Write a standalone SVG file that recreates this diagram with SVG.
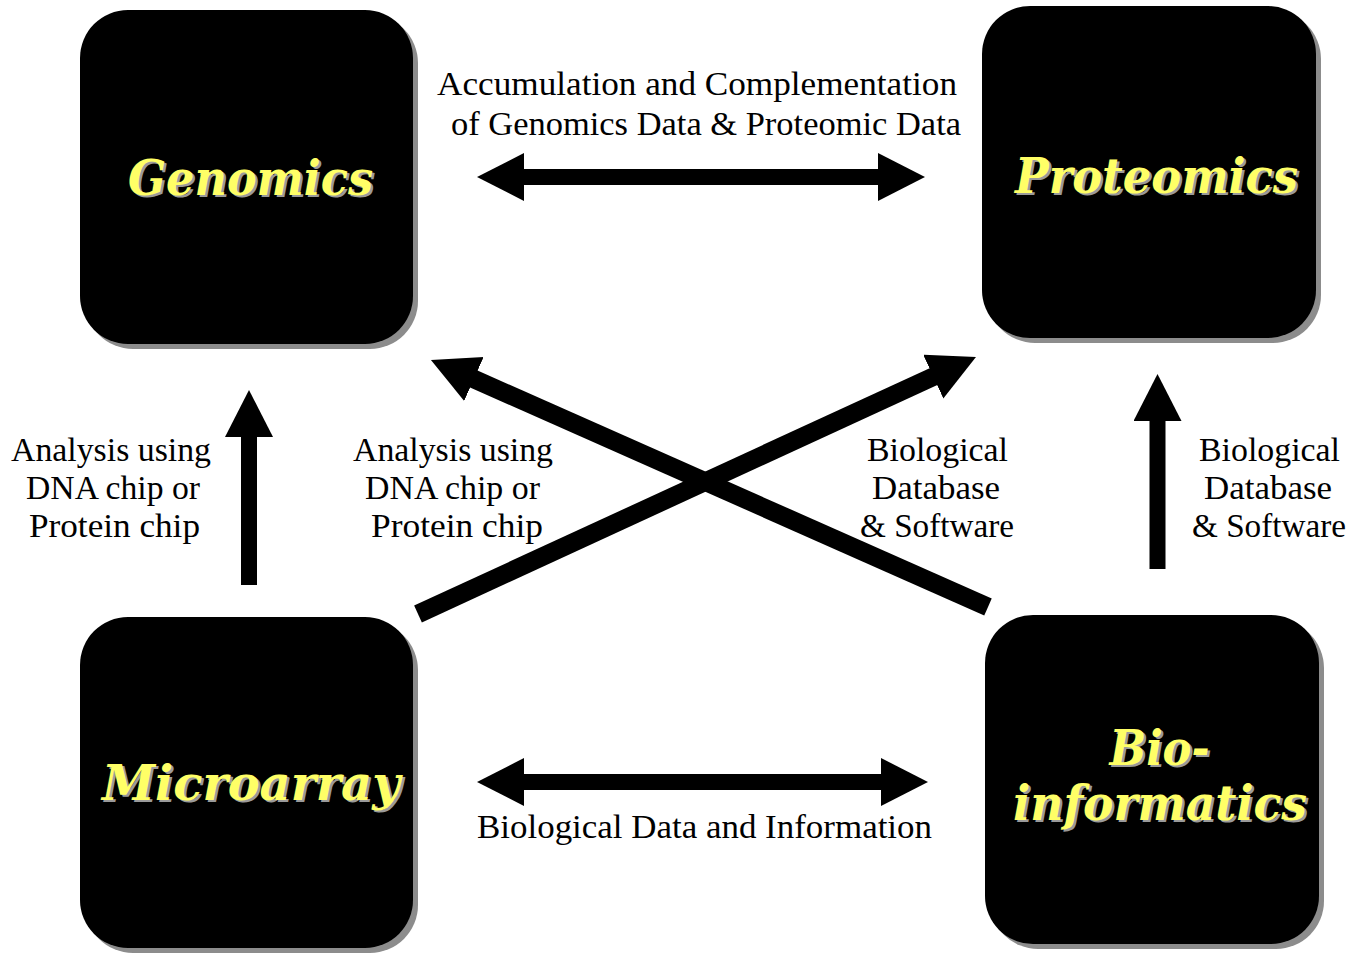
<svg xmlns="http://www.w3.org/2000/svg" width="1352" height="958" viewBox="0 0 1352 958">
<defs>
<style>
.box{fill:#000}
.shadow{fill:#8c8c8c}
.title{font-family:"DejaVu Serif","Liberation Serif",serif;font-weight:bold;font-style:italic;font-size:48px;text-anchor:middle}
.tshadow{fill:#9a9a9a}
.tfill{fill:#ffff66}
.lbl{font-family:"Liberation Serif","DejaVu Serif",serif;font-size:34px;fill:#000;text-anchor:middle}
.conn{stroke:#000;fill:none;stroke-linecap:butt}
</style>
<marker id="ah" markerUnits="userSpaceOnUse" markerWidth="50" markerHeight="50" viewBox="0 0 50 50" refX="2" refY="24" orient="auto-start-reverse">
<path d="M0,0 L47,24 L0,48 z" fill="#000"/>
</marker>
</defs>
<rect width="1352" height="958" fill="#fff"/>

<g id="genomics">
<rect class="shadow" x="85" y="15" width="333" height="334" rx="48"/>
<rect class="box" x="80" y="10" width="333" height="334" rx="48"/>
<text class="title tshadow" x="253" y="197" textLength="245" lengthAdjust="spacingAndGlyphs">Genomics</text>
<text class="title tfill" x="250.5" y="194.5" textLength="245" lengthAdjust="spacingAndGlyphs">Genomics</text>
</g>

<g id="proteomics">
<rect class="shadow" x="987" y="11" width="334" height="332" rx="48"/>
<rect class="box" x="982" y="6" width="334" height="332" rx="48"/>
<text class="title tshadow" x="1159" y="195" textLength="283" lengthAdjust="spacingAndGlyphs">Proteomics</text>
<text class="title tfill" x="1156.5" y="192.5" textLength="283" lengthAdjust="spacingAndGlyphs">Proteomics</text>
</g>

<g id="microarray">
<rect class="shadow" x="85" y="622" width="333" height="331" rx="48"/>
<rect class="box" x="80" y="617" width="333" height="331" rx="48"/>
<text class="title tshadow" x="253.5" y="802" textLength="298" lengthAdjust="spacingAndGlyphs">Microarray</text>
<text class="title tfill" x="251" y="799.5" textLength="298" lengthAdjust="spacingAndGlyphs">Microarray</text>
</g>

<g id="bioinformatics">
<rect class="shadow" x="990" y="620" width="334" height="329" rx="48"/>
<rect class="box" x="985" y="615" width="334" height="329" rx="48"/>
<text class="title tshadow" x="1162" y="767" textLength="100" lengthAdjust="spacingAndGlyphs">Bio-</text>
<text class="title tfill" x="1159.5" y="764.5" textLength="100" lengthAdjust="spacingAndGlyphs">Bio-</text>
<text class="title tshadow" x="1162.5" y="822" textLength="294" lengthAdjust="spacingAndGlyphs">informatics</text>
<text class="title tfill" x="1160" y="819.5" textLength="294" lengthAdjust="spacingAndGlyphs">informatics</text>
</g>

<g id="connectors">
<line class="conn" x1="522" y1="177" x2="880" y2="177" stroke-width="16" marker-start="url(#ah)" marker-end="url(#ah)"/>
<line class="conn" x1="522" y1="782" x2="883" y2="782" stroke-width="16" marker-start="url(#ah)" marker-end="url(#ah)"/>
<line class="conn" x1="249" y1="585" x2="249" y2="435" stroke-width="16" marker-end="url(#ah)"/>
<line class="conn" x1="1157.5" y1="569" x2="1157.5" y2="419" stroke-width="16" marker-end="url(#ah)"/>
<line class="conn" x1="418" y1="614" x2="935.1" y2="375.8" stroke-width="18.5" marker-end="url(#ah)"/>
<line class="conn" x1="988" y1="607" x2="472.1" y2="378.2" stroke-width="18.5" marker-end="url(#ah)"/>
</g>

<g id="labels">
<text class="lbl" x="697" y="95" textLength="520" lengthAdjust="spacingAndGlyphs">Accumulation and Complementation</text>
<text class="lbl" x="706" y="135" textLength="510" lengthAdjust="spacingAndGlyphs">of Genomics Data &amp; Proteomic Data</text>

<text class="lbl" x="111" y="461" textLength="200" lengthAdjust="spacingAndGlyphs">Analysis using</text>
<text class="lbl" x="113" y="499" textLength="174" lengthAdjust="spacingAndGlyphs">DNA chip or</text>
<text class="lbl" x="114.5" y="537" textLength="171" lengthAdjust="spacingAndGlyphs">Protein chip</text>

<text class="lbl" x="453" y="461" textLength="200" lengthAdjust="spacingAndGlyphs">Analysis using</text>
<text class="lbl" x="452.5" y="499" textLength="175" lengthAdjust="spacingAndGlyphs">DNA chip or</text>
<text class="lbl" x="457" y="537" textLength="172" lengthAdjust="spacingAndGlyphs">Protein chip</text>

<text class="lbl" x="937.5" y="461" textLength="141" lengthAdjust="spacingAndGlyphs">Biological</text>
<text class="lbl" x="936" y="499" textLength="128" lengthAdjust="spacingAndGlyphs">Database</text>
<text class="lbl" x="937" y="537" textLength="154" lengthAdjust="spacingAndGlyphs">&amp; Software</text>

<text class="lbl" x="1269.5" y="461" textLength="141" lengthAdjust="spacingAndGlyphs">Biological</text>
<text class="lbl" x="1268" y="499" textLength="128" lengthAdjust="spacingAndGlyphs">Database</text>
<text class="lbl" x="1269" y="537" textLength="154" lengthAdjust="spacingAndGlyphs">&amp; Software</text>

<text class="lbl" x="704.5" y="838" textLength="455" lengthAdjust="spacingAndGlyphs">Biological Data and Information</text>
</g>
</svg>
